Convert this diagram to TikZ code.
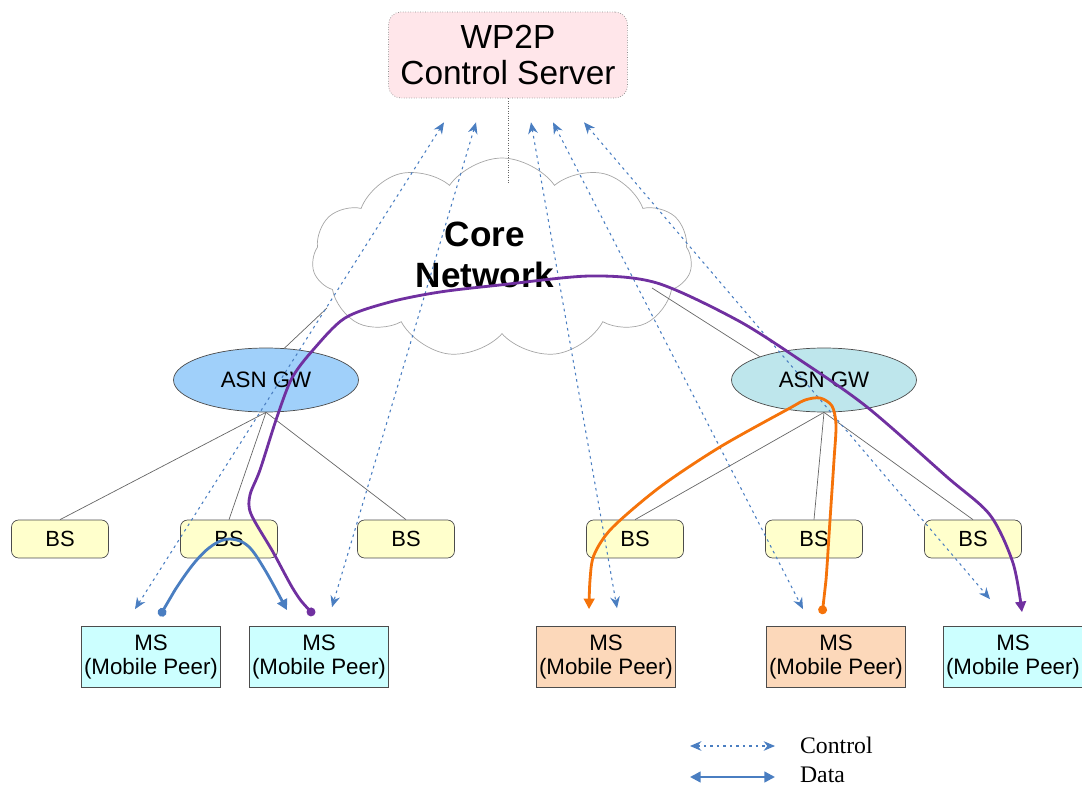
\documentclass[tikz,border=0pt]{standalone}
\usepackage{fontspec}
\setmainfont{Liberation Sans}
\newfontfamily\legendfont{Liberation Serif}
\usepackage{tikz}
\usetikzlibrary{positioning}
\usetikzlibrary{calc}
\usetikzlibrary{arrows.meta}
\usetikzlibrary{shapes.geometric}
\usetikzlibrary{shapes.symbols}

\definecolor{ctlblue}{RGB}{74,126,193}
\definecolor{peerpurple}{RGB}{112,48,160}
\definecolor{peerorange}{RGB}{245,115,10}
\definecolor{srvpink}{RGB}{255,230,234}
\definecolor{gwblue}{RGB}{160,208,250}
\definecolor{gwteal}{RGB}{190,230,236}
\definecolor{bsyellow}{RGB}{255,255,204}
\definecolor{mscyan}{RGB}{204,255,255}
\definecolor{mspeach}{RGB}{252,216,186}

\tikzset{
	server/.style={rectangle,rounded corners=7pt,draw=black!45,densely dotted,fill=srvpink,
		minimum width=4.78cm,minimum height=1.72cm,align=center,font=\fontsize{19}{21}\selectfont},
	gw/.style={ellipse,draw=black!70,minimum width=3.7cm,minimum height=1.28cm,
		font=\fontsize{12.7}{14}\selectfont},
	bsbox/.style={rectangle,rounded corners=4pt,draw=black!70,fill=bsyellow,
		minimum width=1.94cm,minimum height=0.76cm,font=\fontsize{12.5}{14}\selectfont},
	msbox/.style={rectangle,draw=black!70,minimum width=2.78cm,minimum height=1.22cm,
		inner xsep=1.5pt,align=center,font=\fontsize{12.7}{13.5}\selectfont},
	link/.style={draw=black!60,line width=0.4pt},
	ctrl/.style={draw=ctlblue,line width=0.6pt,dash pattern=on 1.5pt off 2.2pt,
		{Stealth[length=6.5pt,width=5.5pt]}-{Stealth[length=6.5pt,width=5.5pt]}},
	data/.style={line width=1.6pt,{Circle[length=5pt]}-{Triangle[length=6pt,width=6pt]}},
	legtext/.style={anchor=west,inner sep=1pt,font=\legendfont\fontsize{13.5}{15}\selectfont},
}

\begin{document}
\begin{tikzpicture}[x=0.02cm,y=0.02cm]
	\useasboundingbox (0,0) rectangle (1082,-787);

	% core network cloud.....................
	\node [cloud,cloud puffs=11,cloud puff arc=110,aspect=1.9,draw=black!35,
		minimum width=7.6cm,minimum height=4.0cm] (core) at (502,-258) {};
	\node [font=\bfseries\fontsize{20}{23}\selectfont,align=center] (coretext) at (485,-255) {Core\\Network};

	% control server.........................
	\node [server] (server) at (508,-55) {WP2P\\Control Server};

	% gateways...............................
	\node [gw,fill=gwblue] (gwl) at (266,-380) {ASN GW};
	\node [gw,fill=gwteal] (gwr) at (824,-380) {ASN GW};

	% base stations..........................
	\node [bsbox] (bs1) at (60,-539) {BS};
	\node [bsbox] (bs2) at (229,-539) {BS};
	\node [bsbox] (bs3) at (406,-539) {BS};
	\node [bsbox] (bs4) at (635,-539) {BS};
	\node [bsbox] (bs5) at (814,-539) {BS};
	\node [bsbox] (bs6) at (973,-539) {BS};

	% mobile peers...........................
	\node [msbox,fill=mscyan] (ms1) at (151,-657) {MS\\(Mobile Peer)};
	\node [msbox,fill=mscyan] (ms2) at (319,-657) {MS\\(Mobile Peer)};
	\node [msbox,fill=mspeach] (ms3) at (606,-657) {MS\\(Mobile Peer)};
	\node [msbox,fill=mspeach] (ms4) at (836,-657) {MS\\(Mobile Peer)};
	\node [msbox,fill=mscyan] (ms5) at (1013,-657) {MS\\(Mobile Peer)};

	% wired links............................
	\coordinate (corel) at (327,-308);
	\coordinate (corer) at (652,-288);
	\coordinate (corenotch) at (508,-183);
	\draw [link,densely dotted] (server.south) -- (corenotch);
	\draw [link] (gwl.60) -- (corel);
	\draw [link] (gwr.160) -- (corer);
	\draw [link] (gwl.south) -- (bs1.north);
	\draw [link] (gwl.south) -- (bs2.north);
	\draw [link] (gwl.south) -- (bs3.north);
	\draw [link] (gwr.south) -- (bs4.north);
	\draw [link] (gwr.south) -- (bs5.north);
	\draw [link] (gwr.south) -- (bs6.north);

	% control signalling.....................
	\draw [ctrl] ($(server.south)+(-64,-24)$) -- ($(ms1.north)+(-16,17)$);
	\draw [ctrl] ($(server.south)+(-32,-24)$) -- ($(ms2.north)+(13,19)$);
	\draw [ctrl] ($(server.south)+(23,-24)$) -- ($(ms3.north)+(11,18)$);
	\draw [ctrl] ($(server.south)+(45,-24)$) -- ($(ms4.north)+(-33,17)$);
	\draw [ctrl] ($(server.south)+(76,-24)$) -- ($(ms5.north)+(-23,27)$);

	% data paths.............................
	\coordinate (blueA) at ($(ms1.north)+(9,10)$);
	\coordinate (blueB) at ($(ms2.north)+(-32,16)$);
	\coordinate (purpA) at ($(ms2.north)+(-5,11)$);
	\coordinate (purpB) at ($(ms5.north)+(9,14)$);
	\coordinate (orngA) at ($(ms4.north)+(-14,12)$);
	\coordinate (orngB) at ($(ms3.north)+(-17,17)$);

	\draw [data,ctlblue] plot [smooth,tension=0.6] coordinates
		{(blueA) (175,-590) (195,-562) (213,-545) (230,-539) (248,-546) (265,-570) (blueB)};
	\draw [data,peerpurple] plot [smooth,tension=0.5] coordinates
		{(purpA) (295,-592) (273,-552) (251,-514) (250,-495) (260,-470) (277,-417) (292,-378)
		 (313,-350) (345,-318) (390,-302) (440,-292) (500,-285) (590,-276) (657,-283)
		 (737,-320) (800,-360) (867,-407) (947,-477) (990,-515) (1013,-563) (purpB)};
	\draw [data,peerorange] plot [smooth,tension=0.5] coordinates
		{(orngA) (826,-580) (830,-520) (834,-460) (836,-425) (832,-406) (820,-398) (805,-400)
		 (790,-408) (720,-447) (660,-487) (612,-528) (594,-555) (590,-580) (orngB)};

	% legend.................................
	\coordinate (legc1) at (690,-746);
	\coordinate (legc2) at (775,-746);
	\coordinate (legd1) at (690,-777);
	\coordinate (legd2) at (775,-777);
	\draw [ctrl] (legc1) -- (legc2);
	\draw [ctlblue,line width=1.3pt,{Triangle[length=6pt,width=6pt]}-{Triangle[length=6pt,width=6pt]}] (legd1) -- (legd2);
	\node [legtext] (ctltext) at (798,-745) {Control};
	\node [legtext] (datatext) at (798,-775) {Data};
\end{tikzpicture}
\end{document}
